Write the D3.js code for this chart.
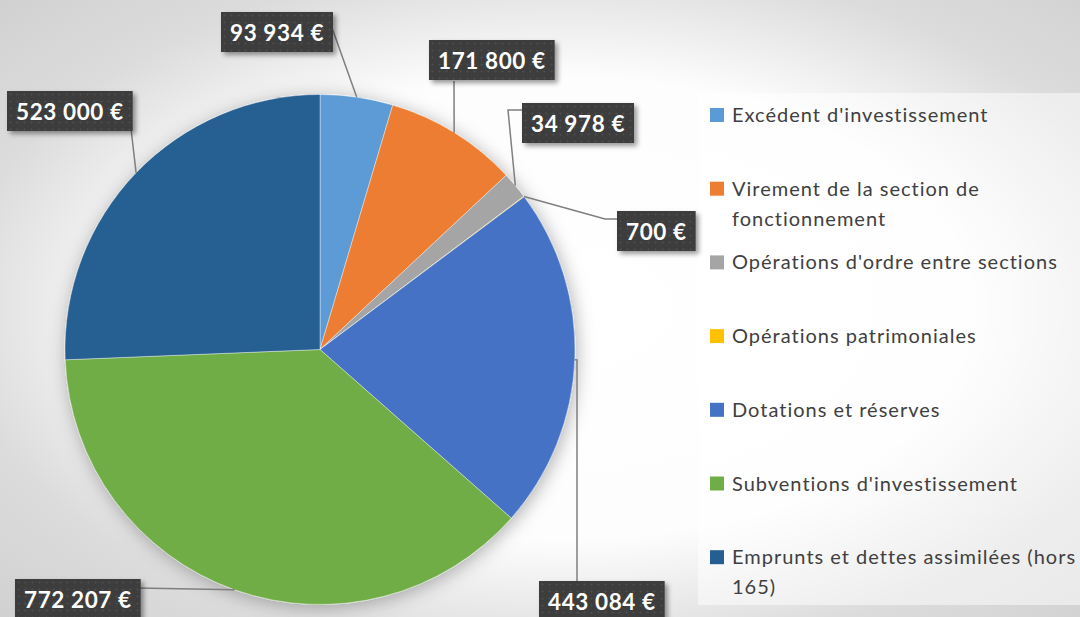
<!DOCTYPE html>
<html>
<head>
<meta charset="utf-8">
<script src="https://cdn.jsdelivr.net/npm/d3@7"></script>
<style>body{margin:0;overflow:hidden;background:#fff}</style>
</head>
<body>
<script>
width = 1080
height = 617

categories = ["Excédent d'investissement", "Virement de la section de fonctionnement", "Opérations d'ordre entre sections", "Opérations patrimoniales", "Dotations et réserves", "Subventions d'investissement", "Emprunts et dettes assimilées (hors 165)"]
values = [93934, 171800, 34978, 700, 443084, 772207, 523000]
colors = ["#5b9bd5", "#ed7d31", "#a5a5a5", "#ffc000", "#4472c4", "#70ad47", "#255e91"]

// label boxes (top-left) and the bends of their leader lines, as Excel placed them
labelBoxes = [[221, 12], [429, 40], [522, 103], [617, 211], [539, 581], [15, 579], [7, 91]]
leaderBends = [[[331, 25]], [[454, 81]], [[508, 110], [522, 110]], [[605, 219], [617, 219]], [[577, 360], [577, 581]], [[137, 588]], [[130, 120]]]

cx = 320, cy = 349.5, r = 255

const fr = d3.formatLocale({decimal: ",", thousands: " ", grouping: [3], currency: ["", " €"]})
const fmt = fr.format("$,")

const svg = d3.select("body").append("svg")
    .attr("width", width)
    .attr("height", height)
    .style("font-family", "Lato, 'Open Sans', sans-serif")

const defs = svg.append("defs")

const bg = defs.append("radialGradient").attr("id", "bg")
    .attr("cx", "52%").attr("cy", "50%").attr("r", "75%")
bg.append("stop").attr("offset", 0).attr("stop-color", "#ffffff")
bg.append("stop").attr("offset", 0.5).attr("stop-color", "#fdfdfd")
bg.append("stop").attr("offset", 0.75).attr("stop-color", "#dcdcdc")
bg.append("stop").attr("offset", 1).attr("stop-color", "#cfcfcf")

const pieShadow = defs.append("filter").attr("id", "pieShadow")
    .attr("x", "-20%").attr("y", "-20%").attr("width", "140%").attr("height", "140%")
pieShadow.append("feDropShadow")
    .attr("dx", 2).attr("dy", 3).attr("stdDeviation", 9)
    .attr("flood-color", "#000").attr("flood-opacity", 0.3)

const boxShadow = defs.append("filter").attr("id", "boxShadow")
    .attr("x", "-20%").attr("y", "-30%").attr("width", "150%").attr("height", "170%")
boxShadow.append("feDropShadow")
    .attr("dx", 3).attr("dy", 3).attr("stdDeviation", 2.5)
    .attr("flood-color", "#000").attr("flood-opacity", 0.4)

const dots = defs.append("pattern").attr("id", "dots")
    .attr("patternUnits", "userSpaceOnUse").attr("width", 7).attr("height", 7)
dots.append("rect").attr("width", 7).attr("height", 7).attr("fill", "#3c3c3c")
dots.append("circle").attr("cx", 3.5).attr("cy", 3.5).attr("r", 1.1).attr("fill", "#4e4e4e")

svg.append("rect")
    .attr("width", width)
    .attr("height", height)
    .attr("fill", "url(#bg)")

// legend panel
svg.append("rect")
    .attr("x", 698).attr("y", 93)
    .attr("width", width - 698).attr("height", 512)
    .attr("fill", "#fff").attr("fill-opacity", 0.5)

const pie = d3.pie().sort(null).value(d => d)
const arcs = pie(values)
const arc = d3.arc().innerRadius(0).outerRadius(r)
const edge = d3.arc().innerRadius(r).outerRadius(r)

svg.append("g")
    .attr("transform", `translate(${cx},${cy})`)
    .attr("filter", "url(#pieShadow)")
  .selectAll("path")
  .data(arcs)
  .join("path")
    .attr("d", arc)
    .attr("fill", (d, i) => colors[i])
    .attr("stroke", "#fff")
    .attr("stroke-width", 0.4)

// leader lines
svg.append("g")
  .selectAll("path")
  .data(arcs)
  .join("path")
    .attr("fill", "none")
    .attr("stroke", "#7f7f7f")
    .attr("stroke-width", 1.5)
    .attr("d", (d, i) => {
        const p = edge.centroid(d)
        return d3.line()([[cx + p[0], cy + p[1]], ...leaderBends[i]])
    })

// data labels
const labels = svg.append("g")
  .selectAll("g")
  .data(arcs)
  .join("g")
    .attr("transform", (d, i) => `translate(${labelBoxes[i][0]},${labelBoxes[i][1]})`)

labels.append("rect")
    .attr("height", 40)
    .attr("fill", "url(#dots)")
    .attr("filter", "url(#boxShadow)")

labels.append("text")
    .attr("y", 21)
    .attr("dy", "0.35em")
    .attr("fill", "#fff")
    .attr("font-weight", "bold")
    .attr("font-size", 22.5)
    .attr("letter-spacing", 0.6)
    .text(d => fmt(d.value))

labels.each(function() {
    const g = d3.select(this)
    const w = g.select("text").node().getComputedTextLength()
    g.select("rect").attr("width", w + 18)
    g.select("text").attr("x", 9)
})

// legend
const legend = svg.append("g")
  .selectAll("g")
  .data(categories)
  .join("g")
    .attr("transform", (d, i) => `translate(710,${115 + i * 73.7})`)

legend.append("rect")
    .attr("y", -7)
    .attr("width", 14)
    .attr("height", 14)
    .attr("fill", (d, i) => colors[i])

legend.append("text")
    .attr("x", 22)
    .attr("font-size", 20)
    .attr("letter-spacing", 1)
    .attr("fill", "#404040")
    .each(function(d) {
        const t = d3.select(this)
        const words = d.split(" ")
        let line = []
        let tspan = t.append("tspan").attr("x", 22).attr("dy", "0.35em")
        for (const w of words) {
            line.push(w)
            tspan.text(line.join(" "))
            if (tspan.node().getComputedTextLength() > 345 && line.length > 1) {
                line.pop()
                tspan.text(line.join(" "))
                line = [w]
                tspan = t.append("tspan").attr("x", 22).attr("dy", 30).text(w)
            }
        }
    })
</script>
</body>
</html>
